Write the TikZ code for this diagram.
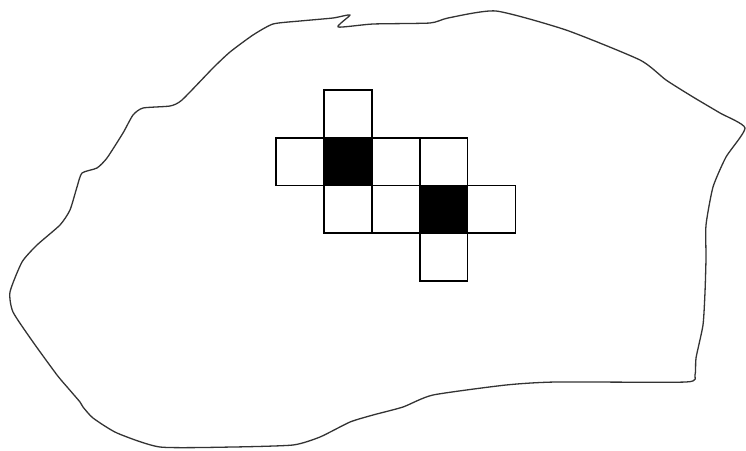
\documentclass[tikz,border=0pt]{standalone}
\usepackage{tikz}
\tikzset{epais/.style={line width=1.6pt}}
\newcommand{\cellw}[2]{\draw[epais] (#1,#2) rectangle ++(1,1)}
\newcommand{\cellb}[2]{\filldraw[epais] (#1,#2) rectangle ++(1,1)}

\begin{document}
\begin{tikzpicture}[x = 1pt, y = -1pt]
\useasboundingbox (0,0) rectangle (746,450);
%Outline of the region
	\draw[line width=1.3pt, color=black!80, line join=round] plot[smooth cycle, tension=0.35] coordinates {
	(273,24) (300,21) (333,18) (350,15) (338,27) (373,24) (430,23) (448,18)
	(496,11) (566,30) (640,60) (666,80) (693,97) (720,113) (745,128) (726,157)
	(713,187) (706,225) (706,258) (705,292) (703,325) (696,358) (695,375)
	(686,382) (556,382) (506,385) (433,395) (403,407) (373,415) (350,422)
	(320,437) (293,445) (233,447) (160,447) (117,433) (93,418) (83,407)
	(80,402) (68,388) (57,375) (33,342) (13,312) (10,292) (22,262) (37,245)
	(60,225) (70,210) (77,187) (82,173) (97,168) (107,158) (123,133)
	(133,115) (143,108) (170,106) (182,100) (213,68) (230,52) (253,35)};
%The cells
\begin{scope}[xshift = 276pt, yshift = -90pt, x = 47.9pt, y = -47.7pt]
	\cellw{1}{0};
	\cellw{0}{1};
	\cellb{1}{1};
	\cellw{2}{1};
	\cellw{3}{1};
	\cellw{1}{2};
	\cellw{2}{2};
	\cellb{3}{2};
	\cellw{4}{2};
	\cellw{3}{3};
\end{scope}
\end{tikzpicture}
\end{document}
